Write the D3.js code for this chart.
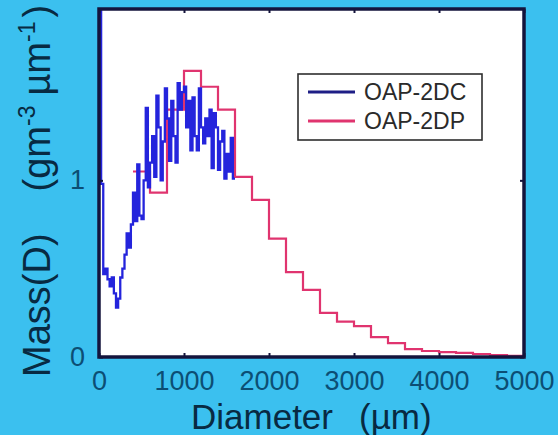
<!DOCTYPE html>
<html>
<head>
<meta charset="utf-8">
<script src="https://cdn.jsdelivr.net/npm/d3@7/dist/d3.min.js"></script>
<style>
  html, body { margin: 0; padding: 0; background: #3bc0ef; }
  svg { display: block; }
</style>
</head>
<body>
<svg id="chart" width="558" height="435"></svg>
<script>
// Mass size distribution, two probes (step histograms)
const xTicks = [0, 1000, 2000, 3000, 4000, 5000];
const yTicks = [0, 1];

// OAP-2DC: 25 µm bins starting at 0 µm
const dcStart = 0;
const dcWidth = 25;
const dcValues = [
  2.5, 0.98, 0.47, 0.50, 0.44, 0.40, 0.45, 0.36,
  0.28, 0.33, 0.45, 0.50, 0.58, 0.70, 0.62, 0.75,
  0.93, 0.77, 1.09, 0.80, 0.78, 1.00, 1.41, 0.96,
  1.10, 1.25, 1.02, 1.48, 1.30, 1.00, 1.22, 1.52,
  1.35, 1.11, 1.45, 1.25, 1.10, 1.55, 1.40, 1.50,
  1.53, 1.30, 1.45, 1.17, 1.47, 1.25, 1.17, 1.52,
  1.30, 1.21, 1.35, 1.25, 1.40, 1.07, 1.38, 1.30,
  1.06, 1.22, 1.28, 1.01, 1.15, 1.05, 1.24, 1.01
];

// OAP-2DP: 200 µm bins starting at 400 µm
const dpStart = 400;
const dpWidth = 200;
const dpValues = [
  1.05, 0.93, 1.40, 1.62, 1.53, 1.40, 1.02, 0.89,
  0.67, 0.48, 0.38, 0.25, 0.20, 0.175, 0.113, 0.079,
  0.045, 0.034, 0.028, 0.023, 0.017, 0.011, 0.006
];

const seriesNames = ["OAP-2DC", "OAP-2DP"];
const seriesColors = ["#2424dc", "#e0346f"];

const svg = d3.select("#chart");
const plotL = 99, plotR = 524, plotT = 9, plotB = 357;

const x = d3.scaleLinear().domain([0, 5000]).range([plotL, plotR]);
const y = d3.scaleLinear().domain([0, 1.97]).range([plotB, plotT]);

// plot background
svg.append("rect")
  .attr("x", plotL).attr("y", plotT)
  .attr("width", plotR - plotL).attr("height", plotB - plotT)
  .attr("fill", "#ffffff");

svg.append("clipPath").attr("id", "plotClip")
  .append("rect")
  .attr("x", plotL).attr("y", plotT)
  .attr("width", plotR - plotL).attr("height", plotB - plotT);

function stepPoints(start, width, values) {
  const pts = values.map((v, i) => [start + i * width, v]);
  pts.push([start + values.length * width, values[values.length - 1]]);
  return pts;
}

const stepLine = d3.line()
  .x(d => x(d[0]))
  .y(d => y(d[1]))
  .curve(d3.curveStepAfter);

const plot = svg.append("g").attr("clip-path", "url(#plotClip)");

plot.append("path")
  .datum(stepPoints(dpStart, dpWidth, dpValues))
  .attr("d", stepLine)
  .attr("fill", "none")
  .attr("stroke", seriesColors[1])
  .attr("stroke-width", 2.2);

plot.append("path")
  .datum(stepPoints(dcStart, dcWidth, dcValues))
  .attr("d", stepLine)
  .attr("fill", "none")
  .attr("stroke", seriesColors[0])
  .attr("stroke-width", 2.3)
  .attr("stroke-linejoin", "miter");

// axes
const tickColor = "#0c4e74";
const xAxis = d3.axisBottom(x).tickValues(xTicks).tickFormat(d3.format("d"))
  .tickSizeInner(-4).tickSizeOuter(0).tickPadding(14);
const gx = svg.append("g").attr("transform", `translate(0,${plotB})`).call(xAxis);

const yAxis = d3.axisLeft(y).tickValues(yTicks).tickFormat(d3.format("d"))
  .tickSizeInner(-4).tickSizeOuter(0).tickPadding(14);
const gy = svg.append("g").attr("transform", `translate(${plotL},0)`).call(yAxis);

// mirrored ticks on top and right
svg.append("g").attr("transform", `translate(0,${plotT})`)
  .call(d3.axisTop(x).tickValues(xTicks).tickFormat("").tickSizeInner(-4).tickSizeOuter(0));
svg.append("g").attr("transform", `translate(${plotR},0)`)
  .call(d3.axisRight(y).tickValues(yTicks).tickFormat("").tickSizeInner(-4).tickSizeOuter(0));

svg.selectAll(".domain").remove();
svg.selectAll(".tick line").attr("stroke", "#14143c").attr("stroke-width", 2);
[gx, gy].forEach(g => g.selectAll(".tick text")
  .attr("font-family", "Liberation Sans, Arial, sans-serif")
  .attr("font-size", 27)
  .attr("fill", tickColor));

// frame
svg.append("rect")
  .attr("x", plotL).attr("y", plotT)
  .attr("width", plotR - plotL).attr("height", plotB - plotT)
  .attr("fill", "none")
  .attr("stroke", "#14143c")
  .attr("stroke-width", 3.5);

// axis titles
const titleColor = "#082a42";
svg.append("text")
  .attr("x", 191).attr("y", 429)
  .attr("font-family", "Liberation Sans, Arial, sans-serif")
  .attr("font-size", 35)
  .attr("fill", titleColor)
  .call(t => {
    t.append("tspan").text("Diameter");
    t.append("tspan").attr("dx", 26).text("(µm)");
  });

const yt = svg.append("text")
  .attr("transform", "translate(50,377) rotate(-90)")
  .attr("font-family", "Liberation Sans, Arial, sans-serif")
  .attr("font-size", 38)
  .attr("fill", titleColor);
yt.append("tspan").text("Mass(D)");
yt.append("tspan").attr("dx", 42).text("(gm");
yt.append("tspan").attr("dy", -15).attr("font-size", 23).text("-3");
yt.append("tspan").attr("dy", 15).attr("dx", 10).text("µm");
yt.append("tspan").attr("dy", -15).attr("font-size", 23).text("-1");
yt.append("tspan").attr("dy", 15).attr("dx", 4).text(")");

// legend
const lg = svg.append("g");
lg.append("rect")
  .attr("x", 298).attr("y", 74).attr("width", 184).attr("height", 66)
  .attr("fill", "#ffffff").attr("stroke", "#2e2e2e").attr("stroke-width", 1.6);
seriesNames.forEach((name, i) => {
  const ly = 92 + i * 29;
  lg.append("line")
    .attr("x1", 308).attr("x2", 355).attr("y1", ly).attr("y2", ly)
    .attr("stroke", i === 0 ? "#1e1e86" : seriesColors[1])
    .attr("stroke-width", 3);
  lg.append("text")
    .attr("x", 364).attr("y", ly + 8)
    .attr("font-family", "Liberation Sans, Arial, sans-serif")
    .attr("font-size", 23)
    .attr("fill", "#2a2a2a")
    .text(name);
});
</script>
</body>
</html>
